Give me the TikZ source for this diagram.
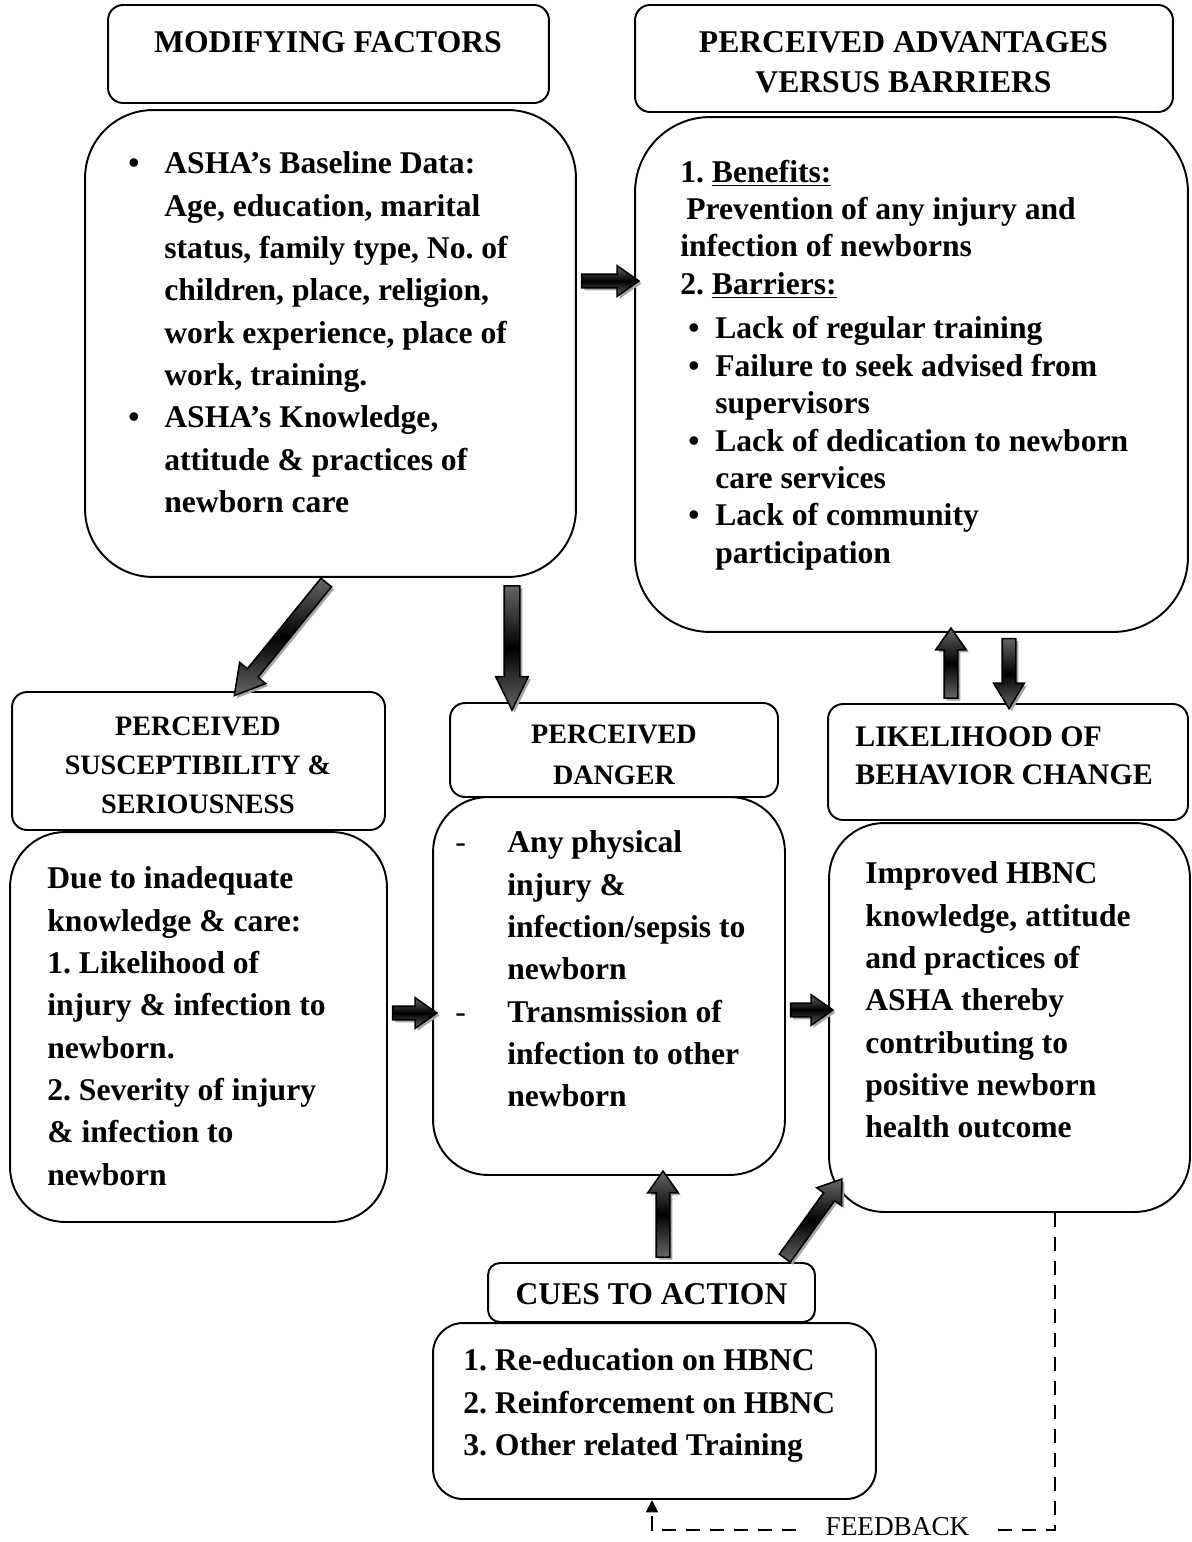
\documentclass[tikz,border=0pt]{standalone}
\usepackage{fontspec}
\setmainfont{Liberation Serif}
\usetikzlibrary{shapes.arrows,shadows,calc,arrows.meta}
\frenchspacing

\newcommand{\fatarrow}[4][]{%
\path let \p1=(#3), \p2=(#4), \n1={veclen(\x2-\x1,\y2-\y1)}, \n2={atan2(\y2-\y1,\x2-\x1)} in
node[fatarrow,#1,minimum height=\n1,rotate=\n2] (#2) at ($(\p1)!0.5!(\p2)$) {};}

\begin{document}
\begin{tikzpicture}[x=0.02cm,y=-0.02cm,
roundbox/.style={draw, line width=1.1pt, inner sep=0pt, rounded corners=#1},
roundbox/.default=0.3cm,
headtext/.style={font=\fontsize{18}{22.8}\selectfont\bfseries, align=center, inner sep=0pt, anchor=north},
bodytext/.style={font=\fontsize{18}{24.1}\selectfont\bfseries, align=left, inner sep=0pt, anchor=north west},
fatarrow/.style={single arrow, draw, line width=0.9pt, inner sep=0.12cm, single arrow head extend=0.17cm,
  single arrow tip angle=70, top color=black!60, bottom color=black!60, middle color=black,
  drop shadow={shadow xshift=0.05cm, shadow yshift=-0.05cm, fill=black!35, opacity=1}},
feedline/.style={dash pattern=on 0.28cm off 0.2cm, line width=1.1pt, -{Triangle[length=0.25cm,width=0.24cm]}}]
\useasboundingbox (0,0) rectangle (1192,1542);

% boxes
\node[roundbox, minimum width=8.82cm, minimum height=1.96cm] (modhead) at (328.5,54) {};
\node[roundbox=1.36cm, minimum width=9.82cm, minimum height=9.34cm] (modbox) at (330.5,343.5) {};
\node[roundbox, minimum width=10.76cm, minimum height=2.14cm] (advhead) at (904,58.5) {};
\node[roundbox=1.5cm, minimum width=11.06cm, minimum height=10.3cm] (advbox) at (911.5,374.5) {};
\node[roundbox, minimum width=7.46cm, minimum height=2.76cm] (sushead) at (198.5,761) {};
\node[roundbox=1.1cm, minimum width=7.54cm, minimum height=7.8cm] (susbox) at (198.5,1027) {};
\node[roundbox, minimum width=6.56cm, minimum height=1.88cm] (danhead) at (614,750) {};
\node[roundbox=1.1cm, minimum width=7.04cm, minimum height=7.56cm] (danbox) at (609,986) {};
\node[roundbox, minimum width=7.2cm, minimum height=2.32cm] (likhead) at (1008,762) {};
\node[roundbox=1.1cm, minimum width=7.22cm, minimum height=7.78cm] (likbox) at (1009.5,1017.5) {};
\node[roundbox=0.24cm, minimum width=6.54cm, minimum height=1.18cm] (cuehead) at (651.5,1292.5) {};
\node[roundbox=0.6cm, minimum width=8.86cm, minimum height=3.52cm] (cuebox) at (654.5,1411) {};

% titles
\node[headtext] (modtitle) at (328,31) {MODIFYING FACTORS};
\node[headtext] (advtitle) at (903.5,31) {PERCEIVED ADVANTAGES\\VERSUS BARRIERS};
\node[headtext, font=\fontsize{16}{22.2}\selectfont\bfseries] (sustitle) at (198,716.7) {PERCEIVED\\SUSCEPTIBILITY \&\\SERIOUSNESS};
\node[headtext, font=\fontsize{16}{22.8}\selectfont\bfseries] (dantitle) at (614,725) {PERCEIVED\\DANGER};
\node[headtext, font=\fontsize{17}{21.6}\selectfont\bfseries, align=left, anchor=north west] (liktitle) at (855,726.7) {LIKELIHOOD OF\\BEHAVIOR CHANGE};
\node[headtext] (cuetitle) at (651.5,1283) {CUES TO ACTION};

% texts
\node[bodytext] (modtext) at (164,151.5) {\llap{\textbullet\hspace{0.5cm}}ASHA’s Baseline Data:\\
Age, education, marital\\
status, family type, No. of\\
children, place, religion,\\
work experience, place of\\
work, training.\\
\llap{\textbullet\hspace{0.5cm}}ASHA’s Knowledge,\\
attitude \& practices of\\
newborn care};
\node[bodytext, font=\fontsize{18}{21.3}\selectfont\bfseries] (advtext) at (680,159.5) {1. \underline{Benefits:}\\
\hspace*{0.12cm}Prevention of any injury and\\
infection of newborns\\
2. \underline{Barriers:}\\[4pt]
\makebox[0.7cm][l]{\hspace{0.16cm}\textbullet}Lack of regular training\\
\makebox[0.7cm][l]{\hspace{0.16cm}\textbullet}Failure to seek advised from\\
\hspace*{0.7cm}supervisors\\
\makebox[0.7cm][l]{\hspace{0.16cm}\textbullet}Lack of dedication to newborn\\
\hspace*{0.7cm}care services\\
\makebox[0.7cm][l]{\hspace{0.16cm}\textbullet}Lack of community\\
\hspace*{0.7cm}participation};
\node[bodytext] (sustext) at (47,866.5) {Due to inadequate\\
knowledge \& care:\\
1. Likelihood of\\
injury \& infection to\\
newborn.\\
2. Severity of injury\\
\& infection to\\
newborn};
\node[bodytext] (dantext) at (455,830.5) {\makebox[1.04cm][l]{\mdseries -}Any physical\\
\hspace*{1.04cm}injury \&\\
\hspace*{1.04cm}infection/sepsis to\\
\hspace*{1.04cm}newborn\\
\makebox[1.04cm][l]{\mdseries -}Transmission of\\
\hspace*{1.04cm}infection to other\\
\hspace*{1.04cm}newborn};
\node[bodytext] (liktext) at (865,861.5) {Improved HBNC\\
knowledge, attitude\\
and practices of\\
ASHA thereby\\
contributing to\\
positive newborn\\
health outcome};
\node[bodytext] (cuetext) at (463,1348.5) {1. Re-education on HBNC\\
2. Reinforcement on HBNC\\
3. Other related Training};

% arrows
\fatarrow{modadv}{modbox.east |- 0,281}{advbox.west |- 0,281}
\fatarrow[single arrow tip angle=60, single arrow head extend=0.2cm]{modsus}{modbox.south -| 330,0}{sushead.north -| 238,0}
\fatarrow[single arrow tip angle=52, inner sep=0.14cm]{moddan}{modbox.south -| 512,0}{danhead.north -| 512,0}
\fatarrow{likadv}{likhead.north -| 951,0}{advbox.south -| 951,0}
\fatarrow[single arrow tip angle=62]{advlik}{advbox.south -| 1009,0}{likhead.north -| 1009,0}
\fatarrow{susdan}{susbox.east |- 0,1013}{danbox.west |- 0,1013}
\fatarrow{danlik}{danbox.east |- 0,1010}{likbox.west |- 0,1010}
\fatarrow{cuedan}{cuehead.north -| 663,0}{danbox.south -| 663,0}
\fatarrow{cuelik}{cuehead.north -| 782,0}{[shift={(11,-30)}]likbox.south west}

% feedback loop
\draw[feedline] (likbox.south -| 1055,0) -- (1055,1530) -- (652,1530) -- (cuebox.south -| 652,0);
\node[fill=white, inner xsep=0.5cm, inner ysep=2pt, font=\fontsize{15.5}{18}\selectfont, anchor=base] (feedback) at (897.5,1535) {FEEDBACK};
\end{tikzpicture}
\end{document}
